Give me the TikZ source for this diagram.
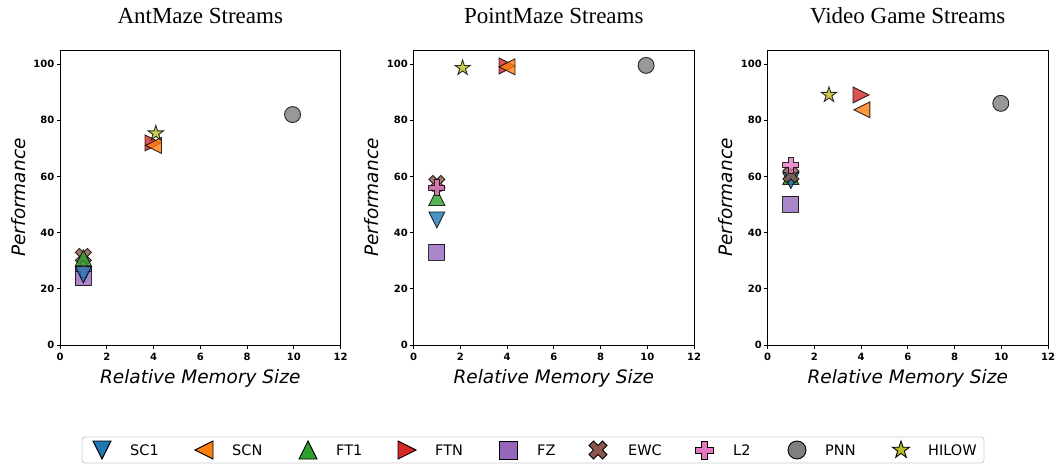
\documentclass[tikz,border=0pt]{standalone}
\usepackage{fontspec}
\newfontfamily\djv{DejaVu Sans}
\newfontfamily\ttl{Liberation Serif}
\definecolor{cSC}{HTML}{1F77B4}
\definecolor{cSN}{HTML}{FF7F0E}
\definecolor{cFO}{HTML}{2CA02C}
\definecolor{cFN}{HTML}{D62728}
\definecolor{cFZ}{HTML}{9467BD}
\definecolor{cEW}{HTML}{8C564B}
\definecolor{cLT}{HTML}{E377C2}
\definecolor{cPN}{HTML}{7F7F7F}
\definecolor{cHI}{HTML}{BCBD22}
\definecolor{legedge}{HTML}{CCCCCC}
\tikzset{
  x=1pt, y=-1pt,
  mk/.style={draw=black, line width=0.9pt, line join=miter},
  frame/.style={draw=black, line width=0.8pt},
  tickmark/.style={draw=black, line width=0.8pt},
  xtl/.style={anchor=base, inner sep=0pt, font=\djv\bfseries\fontsize{10}{12}\selectfont},
  ytl/.style={anchor=east, inner sep=0pt, font=\djv\bfseries\fontsize{10}{12}\selectfont},
  ttlst/.style={anchor=base, inner sep=0pt, font=\ttl\fontsize{23}{26}\selectfont},
  xlab/.style={anchor=base, inner sep=0pt, font=\djv\itshape\fontsize{18.5}{22}\selectfont},
  ylab/.style={anchor=base, inner sep=0pt, rotate=90, font=\djv\itshape\fontsize{18.5}{22}\selectfont},
  legtxt/.style={anchor=west, inner sep=0pt, font=\djv\fontsize{14.5}{17}\selectfont},
  legbox/.style={draw=legedge, line width=0.8pt, fill=white, rounded corners=3pt},
  mkop/.style={opacity=0.8},
  pics/sc/.style={code={\path[mk,fill=cSC] (0,8)--(-8,-8)--(8,-8)--cycle;}},
  pics/sn/.style={code={\path[mk,fill=cSN] (-8,0)--(8,-8)--(8,8)--cycle;}},
  pics/fo/.style={code={\path[mk,fill=cFO] (0,-8)--(-8,8)--(8,8)--cycle;}},
  pics/fn/.style={code={\path[mk,fill=cFN] (8,0)--(-8,-8)--(-8,8)--cycle;}},
  pics/fz/.style={code={\path[mk,fill=cFZ] (-8,-8) rectangle (8,8);}},
  pics/pn/.style={code={\path[mk,fill=cPN] (0,0) circle[radius=8];}},
  pics/lt/.style={code={\path[mk,fill=cLT] (-2.667,-8)--(2.667,-8)--(2.667,-2.667)--(8,-2.667)--(8,2.667)--(2.667,2.667)--(2.667,8)--(-2.667,8)--(-2.667,2.667)--(-8,2.667)--(-8,-2.667)--(-2.667,-2.667)--cycle;}},
  pics/ew/.style={code={\path[mk,fill=cEW] (-4,-8)--(0,-4)--(4,-8)--(8,-4)--(4,0)--(8,4)--(4,8)--(0,4)--(-4,8)--(-8,4)--(-4,0)--(-8,-4)--cycle;}},
  pics/hi/.style={code={\path[mk,fill=cHI] (-90:8)--(-54:3.056)--(-18:8)--(18:3.056)--(54:8)--(90:3.056)--(126:8)--(162:3.056)--(198:8)--(234:3.056)--cycle;}},
}
\newcommand\mkaxes[3]{%
  \draw[frame] (#1,50) rectangle ({#1+280.5},345);
  \foreach \v in {0,2,...,12}{
    \draw[tickmark] ({#1+\v*23.375},345) -- ({#1+\v*23.375},348.5);
    \node[xtl] (#2x\v) at ({#1+\v*23.375},360) {\v};
  }
  \foreach \v in {0,20,...,100}{
    \draw[tickmark] (#1,{345-\v*2.81}) -- ({#1-3.5},{345-\v*2.81});
    \node[ytl] (#2y\v) at ({#1-5.5},{345-\v*2.81}) {\v};
  }
  \node[ttlst] (#2t) at ({#1+140.25},23.3) {#3};
  \node[xlab] (#2xl) at ({#1+140.25},383) {Relative Memory Size};
  \node[ylab] (#2yl) at ({#1-35},197.5) {Performance};
}
\newcommand\datpt[3]{\pic[mkop] at ({\ox+#2*23.375},{345-#3*2.81}) {#1};}
\begin{document}
\begin{tikzpicture}
\useasboundingbox (0,0) rectangle (1058,465);
\fill[white] (0,0) rectangle (1058,465);
% ---- plot 1
\mkaxes{60}{a}{AntMaze Streams}
\def\ox{60}
\datpt{fz}{1}{24}
\datpt{lt}{1}{27}
\datpt{sc}{1}{25}
\datpt{ew}{1}{31.5}
\datpt{fo}{1}{31}
\datpt{fn}{3.98}{71.9}
\datpt{sn}{4.0}{71.0}
\datpt{hi}{4.1}{75.3}
\datpt{pn}{9.95}{82}
% ---- plot 2
\mkaxes{413.5}{b}{PointMaze Streams}
\def\ox{413.5}
\datpt{fz}{1}{33}
\datpt{sc}{1}{44.5}
\datpt{fo}{1}{52.5}
\datpt{ew}{1}{57.5}
\datpt{lt}{1}{56}
\datpt{fn}{4}{99.3}
\datpt{sn}{4}{99}
\datpt{hi}{2.1}{98.6}
\datpt{pn}{9.95}{99.5}
% ---- plot 3
\mkaxes{767.5}{c}{Video Game Streams}
\def\ox{767.5}
\datpt{fz}{1}{50}
\datpt{fo}{1}{60}
\datpt{sc}{1}{58.5}
\datpt{ew}{1}{60.5}
\datpt{lt}{1}{64}
\datpt{fn}{4}{89}
\datpt{sn}{4.04}{83.7}
\datpt{hi}{2.63}{89}
\datpt{pn}{9.98}{86}
% ---- legend
\draw[legbox] (82,437) rectangle (984,463);
\begin{scope}[scale=1.125]
\end{scope}
\pic[scale=1.125] at (102,450) {sc};
\node[legtxt] (l1) at (130,450) {SC1};
\pic[scale=1.125] at (204,450) {sn};
\node[legtxt] (l2) at (232,450) {SCN};
\pic[scale=1.125] at (308,450) {fo};
\node[legtxt] (l3) at (336,450) {FT1};
\pic[scale=1.125] at (407,450) {fn};
\node[legtxt] (l4) at (435,450) {FTN};
\pic[scale=1.125] at (508,450) {fz};
\node[legtxt] (l5) at (537,450) {FZ};
\pic[scale=1.125] at (598,450) {ew};
\node[legtxt] (l6) at (628,450) {EWC};
\pic[scale=1.125] at (704,450) {lt};
\node[legtxt] (l7) at (733,450) {L2};
\pic[scale=1.125] at (797,450) {pn};
\node[legtxt] (l8) at (825,450) {PNN};
\pic[scale=1.125] at (901,450) {hi};
\node[legtxt] (l9) at (928,450) {HILOW};
\end{tikzpicture}
\end{document}
